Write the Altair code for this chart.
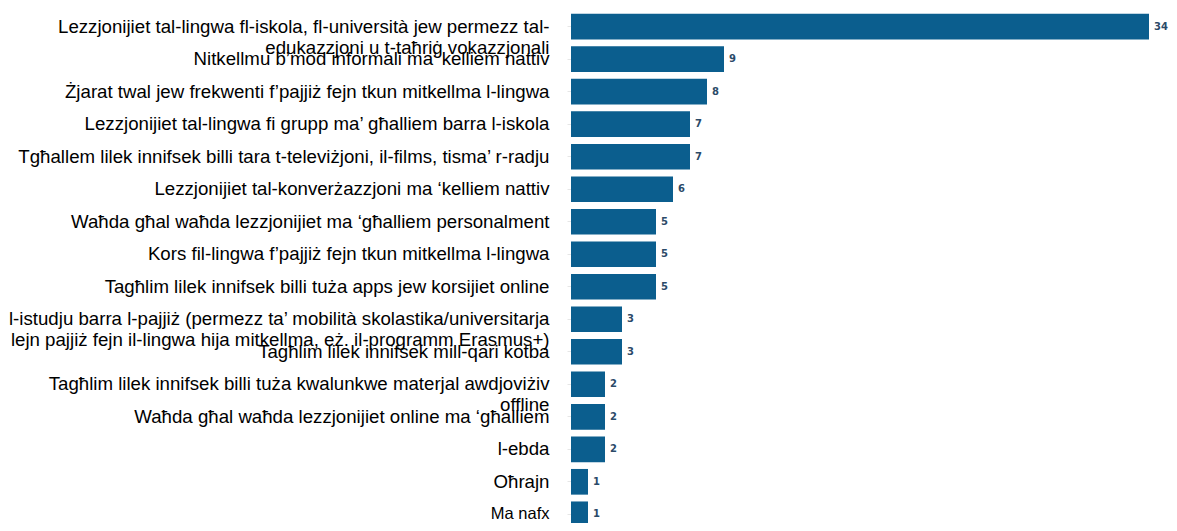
import altair as alt
import pandas as pd

categories = [
    "Lezzjonijiet tal-lingwa fl-iskola, fl-università jew permezz tal-|edukazzjoni u t-taħriġ vokazzjonali",
    "Nitkellmu b’mod informali ma’ kelliem nattiv",
    "Żjarat twal jew frekwenti f’pajjiż fejn tkun mitkellma l-lingwa",
    "Lezzjonijiet tal-lingwa fi grupp ma’ għalliem barra l-iskola",
    "Tgħallem lilek innifsek billi tara t-televiżjoni, il-films, tisma’ r-radju",
    "Lezzjonijiet tal-konverżazzjoni ma ‘kelliem nattiv",
    "Waħda għal waħda lezzjonijiet ma ‘għalliem personalment",
    "Kors fil-lingwa f’pajjiż fejn tkun mitkellma l-lingwa",
    "Tagħlim lilek innifsek billi tuża apps jew korsijiet online",
    "l-istudju barra l-pajjiż (permezz ta’ mobilità skolastika/universitarja|lejn pajjiż fejn il-lingwa hija mitkellma, eż. il-programm Erasmus+)",
    "Tagħlim lilek innifsek mill-qari kotba",
    "Tagħlim lilek innifsek billi tuża kwalunkwe materjal awdjoviżiv|offline",
    "Waħda għal waħda lezzjonijiet online ma ‘għalliem",
    "l-ebda",
    "Oħrajn",
    "Ma nafx",
]
values = [34, 9, 8, 7, 7, 6, 5, 5, 5, 3, 3, 2, 2, 2, 1, 1]

df = pd.DataFrame({"category": categories, "value": values})

y_enc = alt.Y(
    "category:N",
    sort=categories,
    scale=alt.Scale(range=[0, 525], paddingInner=0.21, paddingOuter=0.18),
    axis=alt.Axis(
        title=None,
        labelExpr="split(datum.label, '|')",
        labelFont="Liberation Sans",
        labelFontSize=alt.ConditionalAxisNumber(
            condition={"test": "datum.value == 'Ma nafx'", "value": 16.5},
            value=18.67,
        ),
        labelColor="#000000",
        labelLimit=1000,
        labelPadding=18,
        labelLineHeight=21,
        domain=False,
        tickColor="#e6e6e6",
        tickSize=4,
        grid=False,
    ),
)
x_enc = alt.X("value:Q", scale=alt.Scale(domain=[0, 34], nice=False), axis=None)

bars = alt.Chart(df).mark_bar(color="#0b5e8e").encode(x=x_enc, y=y_enc)
labels = alt.Chart(df).mark_text(
    align="left", baseline="middle", dx=5, font="DejaVu Sans",
    fontSize=10, fontWeight="bold", color="#2b4a68"
).encode(x=x_enc, y=y_enc, text="value:Q")

chart = (bars + labels).properties(
    width=578,
    height=515,
    padding={"left": 563, "top": 0, "right": 20, "bottom": 0},
    autosize=alt.AutoSizeParams(type="none"),
).configure_view(stroke=None)

chart.save("out.html", embed_options={"renderer": "svg", "actions": False})
